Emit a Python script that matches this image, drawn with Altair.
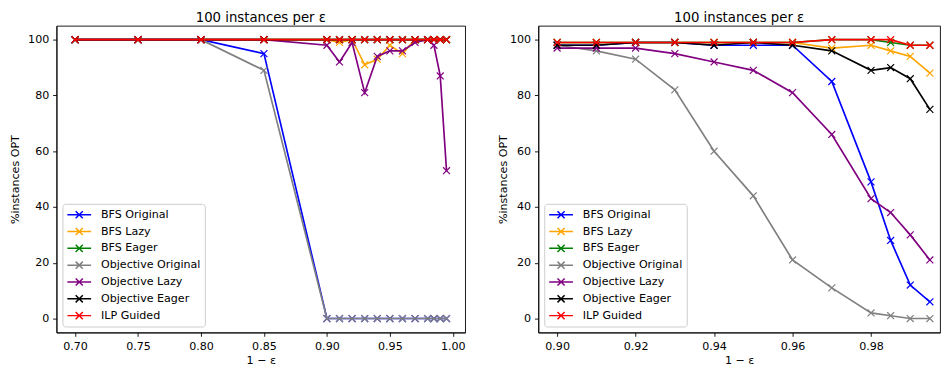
import altair as alt
import pandas as pd

series = ["BFS Original", "BFS Lazy", "BFS Eager", "Objective Original",
          "Objective Lazy", "Objective Eager", "ILP Guided"]
colors = ["blue", "orange", "green", "gray", "purple", "black", "red"]

# Left panel
x_left = [0.70, 0.75, 0.80, 0.85, 0.90, 0.91, 0.92, 0.93, 0.94, 0.95, 0.96, 0.97, 0.98, 0.985, 0.99, 0.995]
left_bfs_original = [100, 100, 100, 95, 0, 0, 0, 0, 0, 0, 0, 0, 0, 0, 0, 0]
left_bfs_lazy = [100, 100, 100, 100, 100, 99, 100, 91, 93, 98, 95, 100, 100, 100, 100, 100]
left_bfs_eager = [100, 100, 100, 100, 100, 100, 100, 100, 100, 100, 100, 100, 100, 100, 100, 100]
left_obj_original = [100, 100, 100, 89, 0, 0, 0, 0, 0, 0, 0, 0, 0, 0, 0, 0]
left_obj_lazy = [100, 100, 100, 100, 98, 92, 99, 81, 94, 96, 96, 99, 100, 98, 87, 53]
left_obj_eager = [100, 100, 100, 100, 100, 100, 100, 100, 100, 100, 100, 100, 100, 100, 100, 100]
left_ilp = [100, 100, 100, 100, 100, 100, 100, 100, 100, 100, 100, 100, 100, 100, 100, 100]

# Right panel
x_right = [0.90, 0.91, 0.92, 0.93, 0.94, 0.95, 0.96, 0.97, 0.98, 0.985, 0.99, 0.995]
right_bfs_original = [98, 98, 99, 99, 98, 98, 98, 85, 49, 28, 12, 6]
right_bfs_lazy = [99, 99, 99, 99, 99, 99, 99, 97, 98, 96, 94, 88]
right_bfs_eager = [99, 99, 99, 99, 99, 99, 99, 100, 100, 99, 98, 98]
right_obj_original = [98, 96, 93, 82, 60, 44, 21, 11, 2, 1, 0, 0]
right_obj_lazy = [97, 97, 97, 95, 92, 89, 81, 66, 43, 38, 30, 21]
right_obj_eager = [98, 98, 99, 99, 98, 99, 98, 96, 89, 90, 86, 75]
right_ilp = [99, 99, 99, 99, 99, 99, 99, 100, 100, 100, 98, 98]

left_ticks = [0.70, 0.75, 0.80, 0.85, 0.90, 0.95, 1.00]
right_ticks = [0.90, 0.92, 0.94, 0.96, 0.98]
y_ticks = [0, 20, 40, 60, 80, 100]
title_text = "100 instances per ε"


def frame(xs, cols):
    rows = []
    for name, vals in zip(series, cols):
        for xv, yv in zip(xs, vals):
            rows.append({"series": name, "x": xv, "y": yv})
    return pd.DataFrame(rows)


df_left = frame(x_left, [left_bfs_original, left_bfs_lazy, left_bfs_eager, left_obj_original,
                         left_obj_lazy, left_obj_eager, left_ilp])
df_right = frame(x_right, [right_bfs_original, right_bfs_lazy, right_bfs_eager, right_obj_original,
                           right_obj_lazy, right_obj_eager, right_ilp])

X_MARK = "M-1,-1L1,1M-1,1L1,-1"
LEGEND_SYM = "M-2,0L2,0M-0.6,-0.6L0.6,0.6M-0.6,0.6L0.6,-0.6"


def panel(df, xdomain, xticks, width, ytitle_pad):
    color = alt.Color("series:N", scale=alt.Scale(domain=series, range=colors),
                      legend=alt.Legend(title=None, orient="bottom-left", offset=6))
    xenc = alt.X("x:Q", scale=alt.Scale(domain=xdomain, nice=False, zero=False),
                 axis=alt.Axis(values=xticks, format=".2f", title="1 − ε"))
    yenc = alt.Y("y:Q", scale=alt.Scale(domain=[-5, 105], nice=False, zero=False),
                 axis=alt.Axis(values=y_ticks, title="%instances OPT", titlePadding=ytitle_pad))
    layers = []
    for s in series:
        base = alt.Chart(df).transform_filter(alt.datum.series == s)
        layers.append(base.mark_line(strokeWidth=1.7, clip=True).encode(x=xenc, y=yenc, color=color))
        layers.append(base.mark_point(shape=X_MARK, filled=False, size=49, strokeWidth=1.2,
                                      opacity=1, clip=True).encode(x=xenc, y=yenc, color=color))
    return alt.layer(*layers).properties(width=width, height=310,
                                         title=alt.TitleParams(title_text))


left = panel(df_left, [0.68525, 1.00975], left_ticks, 413, 7)
right = panel(df_right, [0.89521, 0.99758], right_ticks, 406, 1)

chart = alt.hconcat(left, right, spacing=31).resolve_legend(color="independent").properties(
    padding={"left": 1, "top": 0, "right": 0, "bottom": 0}
).configure_view(
    stroke="black", strokeWidth=0.9
).configure_axis(
    grid=False, labelFont="DejaVu Sans", labelFontSize=11.2, labelColor="black",
    titleFont="DejaVu Sans", titleFontSize=11.2, titleFontWeight="normal", titleColor="black",
    tickColor="black", tickSize=3.9, tickWidth=0.9, domainColor="black", domainWidth=0.9,
    labelPadding=3.9, labelFlush=False
).configure_axisX(
    titlePadding=3
).configure_title(
    font="DejaVu Sans", fontSize=13.4, fontWeight="normal", color="black", offset=1.6,
    anchor="middle"
).configure_legend(
    labelFont="DejaVu Sans", labelFontSize=11.2, labelColor="black",
    symbolType=LEGEND_SYM, symbolSize=144, symbolStrokeWidth=1.5, symbolOffset=6,
    fillColor="rgba(255,255,255,0.8)", strokeColor="#cccccc", cornerRadius=3,
    padding=4, rowPadding=3, labelOffset=15
)

chart.save("out.html", embed_options={"renderer": "svg", "actions": False})
